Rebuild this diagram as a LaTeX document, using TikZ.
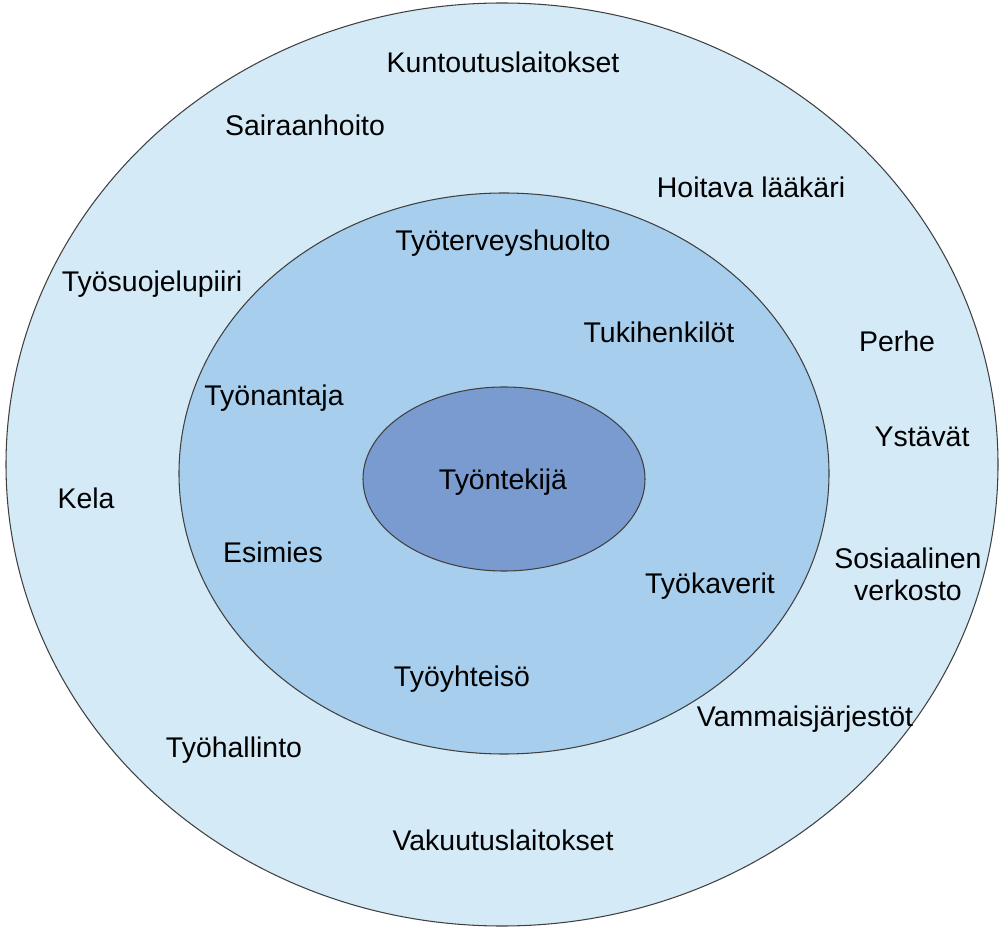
\documentclass[tikz,border=0pt]{standalone}
\usepackage{fontspec}
\setmainfont{Liberation Sans}
\usepackage{xcolor}
\usepackage{tikz}
\definecolor{ringout}{RGB}{213,234,247}
\definecolor{ringmid}{RGB}{167,206,236}
\definecolor{ringin}{RGB}{122,155,208}

\begin{document}
\begin{tikzpicture}[x=0.02cm,y=-0.02cm,
  lbl/.style={anchor=base,inner sep=0pt,align=center,
    font=\fontsize{16.2}{18.2}\selectfont},
  ring/.style={draw=black!75,line width=0.6pt}]
  \useasboundingbox (0,0) rectangle (1000,928);
  % rings
  \filldraw[ring,fill=ringout] (502,464.5) ellipse [x radius=496,y radius=461.5];
  \filldraw[ring,fill=ringmid] (504,473.5) ellipse [x radius=325,y radius=280.5];
  \filldraw[ring,fill=ringin] (504,479) ellipse [x radius=141,y radius=92];
  % centre
  \node[lbl] (tyontekija) at (503,490) {Työntekijä};
  % middle ring
  \node[lbl] (tyoterveys) at (503,251) {Työterveyshuolto};
  \node[lbl] (tukihenk) at (659,343) {Tukihenkilöt};
  \node[lbl] (tyonantaja) at (274,406) {Työnantaja};
  \node[lbl] (esimies) at (273,562) {Esimies};
  \node[lbl] (tyokaverit) at (710,593) {Työkaverit};
  \node[lbl] (tyoyhteiso) at (462,686) {Työyhteisö};
  % outer ring
  \node[lbl] (kuntoutus) at (503,73) {Kuntoutuslaitokset};
  \node[lbl] (sairaanhoito) at (305,136) {Sairaanhoito};
  \node[lbl] (hoitava) at (751,198) {Hoitava lääkäri};
  \node[lbl] (tyosuojelu) at (152,292) {Työsuojelupiiri};
  \node[lbl] (perhe) at (897,352) {Perhe};
  \node[lbl] (ystavat) at (922,447) {Ystävät};
  \node[lbl] (kela) at (86,509) {Kela};
  \node[lbl] (sosiaalinen) at (908,600) {Sosiaalinen\\verkosto};
  \node[lbl] (vammais) at (805,726) {Vammaisjärjestöt};
  \node[lbl] (tyohallinto) at (234,757) {Työhallinto};
  \node[lbl] (vakuutus) at (503,850) {Vakuutuslaitokset};
\end{tikzpicture}
\end{document}
